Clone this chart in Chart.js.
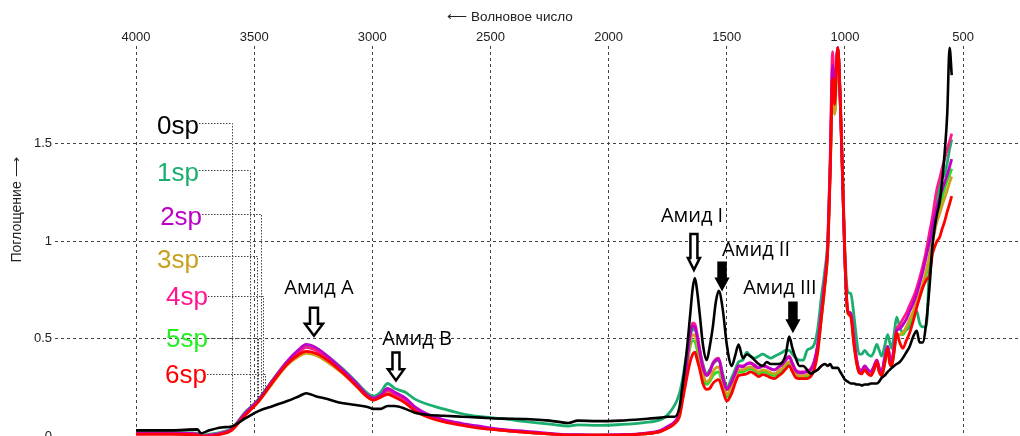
<!DOCTYPE html>
<html>
<head>
<meta charset="utf-8">
<title>ИК-спектры</title>
<script src="https://cdn.jsdelivr.net/npm/chart.js@4.4.0/dist/chart.umd.min.js"></script>
<style>
  body { margin: 0; background: #fff; overflow: hidden; }
  #box { position: relative; width: 1020px; height: 447px; }
</style>
</head>
<body>
<div id="box"><canvas id="spectra"></canvas></div>
<script>
// wavenumber grid, cm-1 (shared by all spectra)
var wavenumbers = [4000, 3850, 3740, 3725, 3690, 3640, 3595, 3540, 3480, 3420,
  3360, 3310, 3280, 3240, 3190, 3130, 3070, 3020, 2995, 2965,
  2935, 2905, 2860, 2820, 2770, 2700, 2620, 2540, 2450, 2350,
  2250, 2170, 2130, 2050, 1950, 1850, 1780, 1750, 1720, 1700,
  1686, 1669, 1655, 1644, 1635, 1625, 1614, 1601, 1585, 1572,
  1559, 1546, 1534, 1517, 1500, 1479, 1465, 1450, 1432, 1415,
  1400, 1382, 1365, 1348, 1331, 1314, 1297, 1280, 1264, 1250,
  1236, 1222, 1208, 1192, 1176, 1160, 1145, 1130, 1115, 1100,
  1085, 1073, 1062, 1052, 1043, 1036, 1030, 1020, 1010, 1000,
  988, 975, 962, 950, 940, 929, 916, 903, 890, 878,
  865, 855, 844, 832, 819, 810, 802, 792, 781, 768,
  755, 740, 726, 711, 696, 684, 671, 656, 641, 630,
  620, 610, 599, 589, 578, 567, 557, 548];

var sp0 = [.03, .03, .035, .015, .03, .045, .05, .09, .13, .155,
  .18, .205, .22, .205, .19, .17, .16, .15, .14, .14,
  .155, .155, .14, .12, .11, .105, .10, .095, .09, .088,
  .08, .068, .08, .077, .08, .088, .095, .10, .10, .15,
  .27, .44, .62, .76, .81, .74, .62, .47, .39, .46,
  .56, .69, .745, .65, .47, .36, .41, .47, .40, .42,
  .41, .39, .37, .36, .38, .37, .37, .37, .38, .42,
  .51, .45, .40, .36, .36, .34, .32, .33, .34, .36,
  .37, .36, .37, .35, .35, .35, .35, .33, .31, .29,
  .28, .27, .27, .265, .265, .26, .265, .265, .27, .27,
  .27, .28, .30, .31, .33, .34, .35, .36, .37, .38,
  .40, .43, .46, .51, .54, .48, .48, .58, .78, .97,
  1.07, 1.14, 1.2, 1.3, 1.45, 1.65, 1.99, 1.85];

var sp1 = [.02, .02, .015, .005, .01, .02, .04, .12, .19, .29,
  .38, .44, .465, .45, .41, .35, .28, .22, .205, .225,
  .27, .245, .225, .19, .165, .14, .115, .10, .09, .075,
  .062, .052, .058, .055, .06, .07, .085, .11, .16, .22,
  .30, .43, .52, .545, .55, .50, .44, .37, .32, .34,
  .37, .385, .39, .32, .25, .30, .34, .38, .39, .43,
  .41, .40, .41, .42, .41, .40, .41, .42, .43, .44,
  .44, .42, .40, .39, .39, .44, .45, .47, .55, .71,
  .85, 1.0, 1.4, 1.75, 1.7, 1.9, 1.99, 1.75, 1.35, .95,
  .74, .73, .62, .49, .42, .42, .44, .42, .41, .43,
  .47, .44, .41, .46, .52, .48, .45, .52, .61, .56,
  .53, .545, .56, .60, .64, .58, .56, .56, .90, 1.0,
  1.1, 1.2, 1.28, 1.32, 1.34, 1.4, 1.47, 1.52];

var sp2 = [.015, .015, .01, .0, .005, .015, .035, .115, .19, .29,
  .385, .445, .47, .455, .41, .345, .275, .21, .195, .21,
  .245, .225, .195, .15, .115, .085, .065, .05, .035, .025,
  .015, .008, .008, .006, .008, .015, .03, .05, .075, .12,
  .22, .38, .52, .565, .56, .51, .43, .35, .31, .33,
  .37, .39, .395, .30, .24, .28, .32, .36, .355, .37,
  .375, .36, .35, .36, .355, .345, .34, .355, .37, .39,
  .405, .37, .335, .325, .325, .33, .34, .38, .47, .63,
  .80, .97, 1.4, 1.9, 1.72, 1.9, 1.99, 1.72, 1.32, .9,
  .64, .63, .50, .39, .34, .335, .36, .34, .33, .355,
  .39, .35, .33, .40, .46, .40, .38, .45, .54, .55,
  .57, .60, .64, .68, .73, .78, .84, .92, 1.0, 1.07,
  1.13, 1.18, 1.22, 1.26, 1.3, 1.34, 1.38, 1.42];

var sp3 = [.015, .015, .01, .0, .005, .015, .035, .11, .18, .275,
  .365, .41, .425, .415, .38, .325, .26, .2, .185, .2,
  .225, .205, .18, .14, .105, .08, .06, .045, .03, .02,
  .012, .006, .006, .005, .006, .012, .025, .045, .07, .11,
  .21, .36, .48, .52, .515, .47, .40, .32, .28, .29,
  .33, .35, .355, .28, .215, .26, .30, .34, .34, .35,
  .355, .345, .33, .34, .335, .325, .32, .335, .35, .37,
  .38, .35, .32, .31, .31, .315, .325, .365, .45, .61,
  .78, .95, 1.38, 1.84, 1.65, 1.85, 1.99, 1.72, 1.32, .9,
  .63, .62, .48, .38, .335, .33, .35, .33, .32, .345,
  .38, .34, .32, .38, .45, .39, .37, .44, .52, .52,
  .53, .56, .60, .64, .69, .73, .78, .85, .93, .99,
  1.05, 1.1, 1.14, 1.18, 1.22, 1.26, 1.30, 1.33];

var sp4 = [.015, .015, .01, .0, .005, .015, .035, .115, .185, .285,
  .375, .43, .455, .44, .40, .34, .27, .205, .19, .205,
  .235, .215, .185, .145, .11, .08, .06, .045, .03, .02,
  .012, .006, .006, .005, .006, .012, .025, .045, .07, .115,
  .22, .38, .53, .58, .575, .52, .44, .36, .315, .33,
  .375, .395, .40, .305, .24, .28, .32, .36, .36, .37,
  .375, .365, .35, .36, .355, .345, .34, .355, .37, .395,
  .41, .375, .34, .33, .33, .335, .345, .385, .47, .63,
  .80, .97, 1.45, 1.97, 1.74, 1.88, 1.99, 1.72, 1.32, .9,
  .64, .63, .50, .39, .345, .34, .36, .34, .33, .355,
  .39, .35, .33, .40, .46, .41, .39, .46, .55, .57,
  .60, .63, .67, .71, .76, .81, .87, .95, 1.05, 1.12,
  1.2, 1.27, 1.32, 1.37, 1.42, 1.47, 1.51, 1.55];

var sp5 = [.015, .015, .01, .0, .005, .015, .035, .115, .19, .29,
  .38, .435, .46, .445, .405, .345, .275, .21, .195, .21,
  .24, .22, .19, .145, .11, .08, .06, .045, .03, .02,
  .012, .006, .006, .005, .006, .012, .025, .045, .07, .11,
  .20, .35, .46, .49, .485, .44, .37, .30, .265, .28,
  .31, .325, .33, .26, .20, .245, .29, .33, .33, .34,
  .345, .335, .32, .33, .325, .315, .31, .325, .34, .36,
  .37, .34, .31, .30, .30, .305, .315, .35, .44, .60,
  .77, .94, 1.38, 1.84, 1.65, 1.85, 1.99, 1.72, 1.32, .9,
  .63, .62, .48, .38, .33, .33, .345, .325, .315, .34,
  .375, .33, .315, .37, .45, .385, .365, .43, .52, .52,
  .52, .55, .58, .62, .67, .71, .76, .83, .92, .99,
  1.06, 1.12, 1.17, 1.22, 1.27, 1.31, 1.34, 1.37];

var sp6 = [.01, .01, .005, .0, .0, .01, .03, .105, .18, .28,
  .37, .42, .435, .425, .39, .33, .26, .2, .185, .2,
  .215, .20, .17, .13, .10, .075, .055, .04, .03, .02,
  .012, .006, .006, .005, .006, .012, .025, .04, .065, .10,
  .19, .30, .38, .42, .43, .39, .34, .27, .24, .245,
  .27, .285, .29, .235, .18, .22, .27, .31, .315, .32,
  .33, .32, .305, .315, .31, .30, .295, .31, .325, .345,
  .36, .33, .30, .295, .295, .295, .305, .34, .43, .60,
  .77, .95, 1.35, 1.83, 1.70, 1.9, 1.99, 1.75, 1.35, .92,
  .64, .61, .47, .37, .325, .32, .34, .32, .31, .335,
  .38, .33, .31, .37, .45, .37, .36, .43, .53, .48,
  .45, .49, .53, .59, .66, .71, .76, .80, .83, .93,
  .97, 1.0, 1.02, 1.06, 1.1, 1.15, 1.19, 1.23];

var seriesNames = ['0sp', '1sp', '2sp', '3sp', '4sp', '5sp', '6sp'];
var seriesValues = [sp0, sp1, sp2, sp3, sp4, sp5, sp6];
var xTicks = [4000, 3500, 3000, 2500, 2000, 1500, 1000, 500];
var yTicks = [0, 0.5, 1, 1.5];

// styles
var lineColors = ['#000000', '#1aae6f', '#c000c8', '#cfa020', '#ff1a8c', '#25e025', '#ff0000'];
var labelColors = ['#000000', '#1aae6f', '#bb00c8', '#c9a020', '#ff1493', '#22ee22', '#ff0000'];
var drawOrder = [0, 6, 2, 4, 3, 5, 1]; // lower = drawn on top

// where the series names sit (axis units) and where their leader drops
var nameSpots = [
  { wn: 3911, base: 1.546, lead: 1.602, dropWn: 3594 },
  { wn: 3911, base: 1.306, lead: 1.362, dropWn: 3518 },
  { wn: 3898, base: 1.082, lead: 1.138, dropWn: 3471 },
  { wn: 3911, base: 0.862, lead: 0.923, dropWn: 3488 },
  { wn: 3873, base: 0.673, lead: 0.719, dropWn: 3463 },
  { wn: 3873, base: 0.459, lead: 0.505, dropWn: 3484 },
  { wn: 3877, base: 0.270, lead: 0.321, dropWn: 3454 }
];

// band labels with their arrows (axis units)
var bandNotes = [
  { text: 'Амид А', wn: 3226, abs: 0.760, arrowWn: 3247, from: 0.658, to: 0.515, head: 18, shaft: 8, headLen: 12, fill: '#fff' },
  { text: 'Амид В', wn: 2811, abs: 0.495, arrowWn: 2900, from: 0.429, to: 0.286, head: 16, shaft: 7, headLen: 11, fill: '#fff' },
  { text: 'Амид I', wn: 1647, abs: 1.128, arrowWn: 1639, from: 1.036, to: 0.852, head: 12, shaft: 7, headLen: 12, fill: '#fff' },
  { text: 'Амид II', wn: 1376, abs: 0.954, arrowWn: 1520, from: 0.888, to: 0.755, head: 11, shaft: 7, headLen: 10, fill: '#000' },
  { text: 'Амид III', wn: 1275, abs: 0.760, arrowWn: 1220, from: 0.684, to: 0.541, head: 11, shaft: 7, headLen: 10, fill: '#000' }
];

function valueAt(values, wn) {
  for (var i = 0; i < wavenumbers.length - 1; i++) {
    var a = wavenumbers[i], b = wavenumbers[i + 1];
    if (wn <= a && wn >= b) {
      var t = (a - wn) / (a - b);
      return values[i] + (values[i + 1] - values[i]) * t;
    }
  }
  return values[0];
}

function downArrow(ctx, cx, y1, y2, note) {
  ctx.beginPath();
  ctx.moveTo(cx - note.shaft / 2, y1);
  ctx.lineTo(cx + note.shaft / 2, y1);
  ctx.lineTo(cx + note.shaft / 2, y2 - note.headLen);
  ctx.lineTo(cx + note.head / 2, y2 - note.headLen);
  ctx.lineTo(cx, y2);
  ctx.lineTo(cx - note.head / 2, y2 - note.headLen);
  ctx.lineTo(cx - note.shaft / 2, y2 - note.headLen);
  ctx.closePath();
  ctx.fillStyle = note.fill;
  ctx.fill();
  ctx.lineWidth = 2.5;
  ctx.strokeStyle = '#000';
  ctx.lineJoin = 'miter';
  ctx.stroke();
}

var overlay = {
  id: 'overlay',
  afterDatasetsDraw: function (chart) {
    var ctx = chart.ctx, xs = chart.scales.x, ys = chart.scales.y;
    ctx.save();

    // series names with dotted leaders
    ctx.font = '26px "Liberation Sans", Arial, sans-serif';
    ctx.textBaseline = 'alphabetic';
    ctx.textAlign = 'left';
    nameSpots.forEach(function (s, i) {
      var x = xs.getPixelForValue(s.wn);
      var w = ctx.measureText(seriesNames[i]).width;
      var ly = ys.getPixelForValue(s.lead);
      var dx = xs.getPixelForValue(s.dropWn);
      var dy = ys.getPixelForValue(valueAt(seriesValues[i], s.dropWn));
      ctx.beginPath();
      ctx.setLineDash([1.5, 1.5]);
      ctx.lineWidth = 1;
      ctx.strokeStyle = '#444';
      ctx.moveTo(x + w, Math.round(ly) + 0.5);
      ctx.lineTo(Math.round(dx) + 0.5, Math.round(ly) + 0.5);
      ctx.lineTo(Math.round(dx) + 0.5, dy);
      ctx.stroke();
      ctx.setLineDash([]);
      ctx.fillStyle = labelColors[i];
      ctx.fillText(seriesNames[i], x, ys.getPixelForValue(s.base));
    });

    // band labels and arrows
    ctx.font = '20px "Open Sans", "Noto Sans", sans-serif';
    ctx.textAlign = 'center';
    ctx.textBaseline = 'middle';
    bandNotes.forEach(function (n) {
      ctx.fillStyle = '#000';
      ctx.fillText(n.text, xs.getPixelForValue(n.wn), ys.getPixelForValue(n.abs));
      downArrow(ctx, xs.getPixelForValue(n.arrowWn), ys.getPixelForValue(n.from), ys.getPixelForValue(n.to), n);
    });

    // y axis title, reading upwards
    ctx.translate(17, 210);
    ctx.rotate(-Math.PI / 2);
    ctx.font = '14px "Liberation Sans", Arial, sans-serif';
    ctx.fillStyle = '#222';
    ctx.fillText('Поглощение ⟶', 0, 0);
    ctx.restore();
  }
};

var datasets = seriesNames.map(function (name, i) {
  return {
    label: name,
    data: wavenumbers.map(function (w, j) { return { x: w, y: seriesValues[i][j] }; }),
    borderColor: lineColors[i],
    borderWidth: i === 0 ? 2.6 : 2.8,
    pointRadius: 0,
    fill: false,
    cubicInterpolationMode: 'monotone',
    order: drawOrder[i]
  };
});

var gridStyle = { color: '#444', lineWidth: 1, drawTicks: false };
var dashedBorder = { display: false, dash: [3, 3] };

new Chart(document.getElementById('spectra'), {
  type: 'line',
  data: { datasets: datasets },
  options: {
    responsive: true,
    maintainAspectRatio: false,
    animation: false,
    layout: { padding: 0 },
    plugins: {
      legend: { display: false },
      tooltip: { enabled: false },
      title: {
        display: true,
        text: '⟵ Волновое число',
        color: '#222',
        font: { family: '"Liberation Sans", Arial, sans-serif', size: 13.5, weight: 'normal' },
        padding: { top: 9, bottom: 3 }
      }
    },
    scales: {
      x: {
        type: 'linear',
        position: 'top',
        reverse: true,
        min: 259,
        max: 4343,
        afterBuildTicks: function (axis) { axis.ticks = xTicks.map(function (v) { return { value: v }; }); },
        grid: gridStyle,
        border: dashedBorder,
        ticks: {
          color: '#222', padding: 1, maxRotation: 0,
          font: { family: '"Liberation Sans", Arial, sans-serif', size: 13 },
          callback: function (v) { return String(v); }
        }
      },
      y: {
        type: 'linear',
        position: 'left',
        min: 0,
        max: 2,
        afterBuildTicks: function (axis) { axis.ticks = yTicks.map(function (v) { return { value: v }; }); },
        afterFit: function (axis) { axis.width = 55; },
        grid: gridStyle,
        border: dashedBorder,
        ticks: {
          color: '#222', padding: 3,
          font: { family: '"Liberation Sans", Arial, sans-serif', size: 13 },
          callback: function (v) { return String(v); }
        }
      }
    }
  },
  plugins: [overlay]
});
</script>
</body>
</html>
